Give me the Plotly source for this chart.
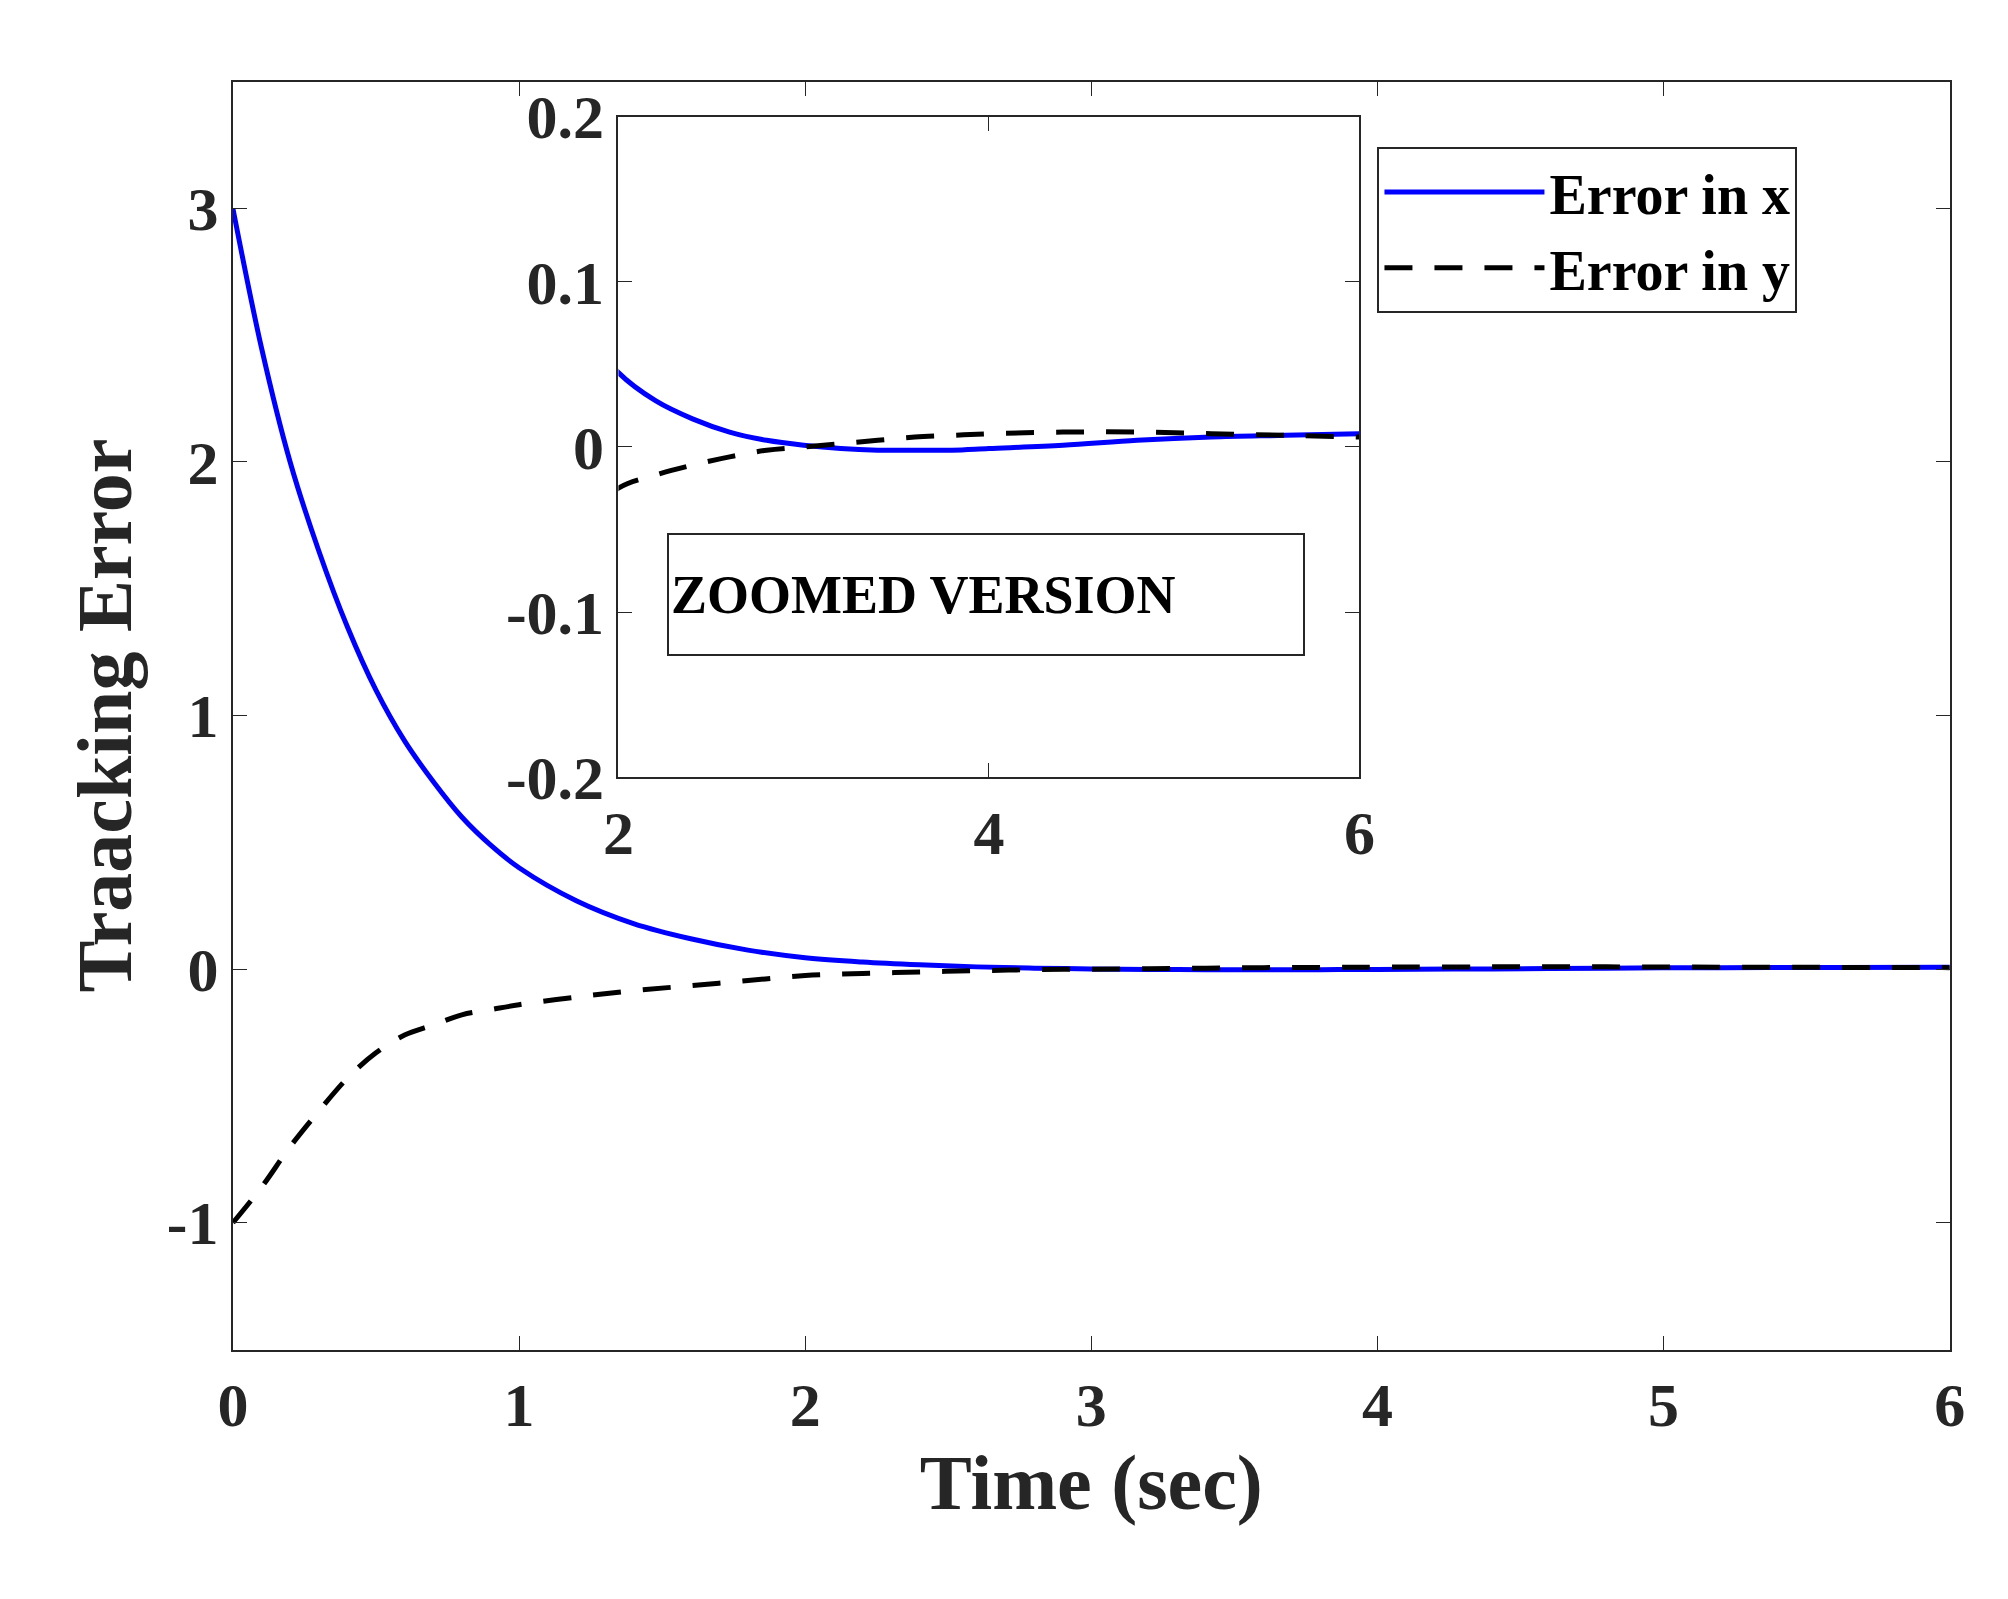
import plotly.graph_objects as go

t = [0,0.1,0.2,0.3,0.4,0.5,0.6,0.7,0.8,0.9,1.0,1.2,1.4,1.6,1.8,2.0,2.2,2.4,2.6,2.8,3.0,3.2,3.4,3.6,3.8,4.0,4.4,4.8,5.2,5.6,6.0]
err_x = [3,2.45,2.0,1.65,1.35,1.1,0.9,0.74,0.6,0.49,0.4,0.27,0.18,0.12,0.075,0.045,0.028,0.017,0.009,0.004,0.001,-0.001,-0.002,-0.002,-0.002,-0.001,0.001,0.004,0.006,0.007,0.008]
err_y = [-1,-0.86,-0.7,-0.56,-0.43,-0.33,-0.26,-0.22,-0.18,-0.16,-0.14,-0.11,-0.085,-0.065,-0.045,-0.025,-0.017,-0.011,-0.006,-0.002,0.0,0.002,0.004,0.006,0.007,0.008,0.009,0.009,0.008,0.007,0.006]

main_x_ticks = [0, 1, 2, 3, 4, 5, 6]
main_y_ticks = [-1, 0, 1, 2, 3]
inset_x_ticks = [2, 4, 6]
inset_y_ticks = [-0.2, -0.1, 0, 0.1, 0.2]

F = "Liberation Serif"
DASH = "28px,22px"
fig = go.Figure()
fig.add_trace(go.Scatter(x=t, y=err_x, mode="lines", line=dict(color="blue", width=5, shape="spline"), name="<b>Error in x</b>"))
fig.add_trace(go.Scatter(x=t, y=err_y, mode="lines", line=dict(color="black", width=5, dash=DASH, shape="spline"), name="<b>Error in y</b>"))
fig.add_trace(go.Scatter(x=t, y=err_x, mode="lines", line=dict(color="blue", width=5, shape="spline"), xaxis="x2", yaxis="y2", showlegend=False))
fig.add_trace(go.Scatter(x=t, y=err_y, mode="lines", line=dict(color="black", width=5, dash=DASH, shape="spline"), xaxis="x2", yaxis="y2", showlegend=False))

def lab(v):
    return ["<b>%s</b>" % (("%g" % x)) for x in v]

ax = dict(showgrid=False, zeroline=False, showline=True, linecolor="#262626", linewidth=2, mirror="ticks",
          ticks="inside", ticklen=14, tickcolor="#262626", automargin=False,
          tickfont=dict(family=F, size=62, color="#262626"))
fig.update_layout(
    width=2008, height=1599, paper_bgcolor="white", plot_bgcolor="white",
    margin=dict(l=0, r=0, t=0, b=0),
    font=dict(family=F, color="#262626"),
    xaxis=dict(ax, domain=[0.112, 0.967], range=[0, 6], tickvals=main_x_ticks, ticktext=lab(main_x_ticks),
               title=dict(text="<b>Time (sec)</b>", font=dict(size=78), standoff=10)),
    yaxis=dict(ax, domain=[0.161, 0.954], range=[-1.5, 3.5], tickvals=main_y_ticks, ticktext=lab(main_y_ticks),
               title=dict(text="<b>Traacking Error</b>", font=dict(size=78), standoff=10)),
    xaxis2=dict(ax, domain=[0.304, 0.673], range=[2, 6], tickvals=inset_x_ticks, ticktext=lab(inset_x_ticks), anchor="y2"),
    yaxis2=dict(ax, domain=[0.519, 0.932], range=[-0.2, 0.2], tickvals=inset_y_ticks, ticktext=lab(inset_y_ticks), anchor="x2"),
    legend=dict(x=0.682, y=0.913, xanchor="left", yanchor="top", bgcolor="white", bordercolor="#262626", borderwidth=2,
                font=dict(family=F, size=56, color="black"), itemwidth=160, tracegroupgap=0),
    annotations=[dict(text="<b>ZOOMED VERSION</b>", xref="paper", yref="paper", x=0.487, y=0.633,
                      showarrow=False, font=dict(family=F, size=54, color="black"), width=630, height=115, align="left",
                      bordercolor="#262626", borderwidth=2, borderpad=2, bgcolor="white")],
)
fig.write_html("out.html")
